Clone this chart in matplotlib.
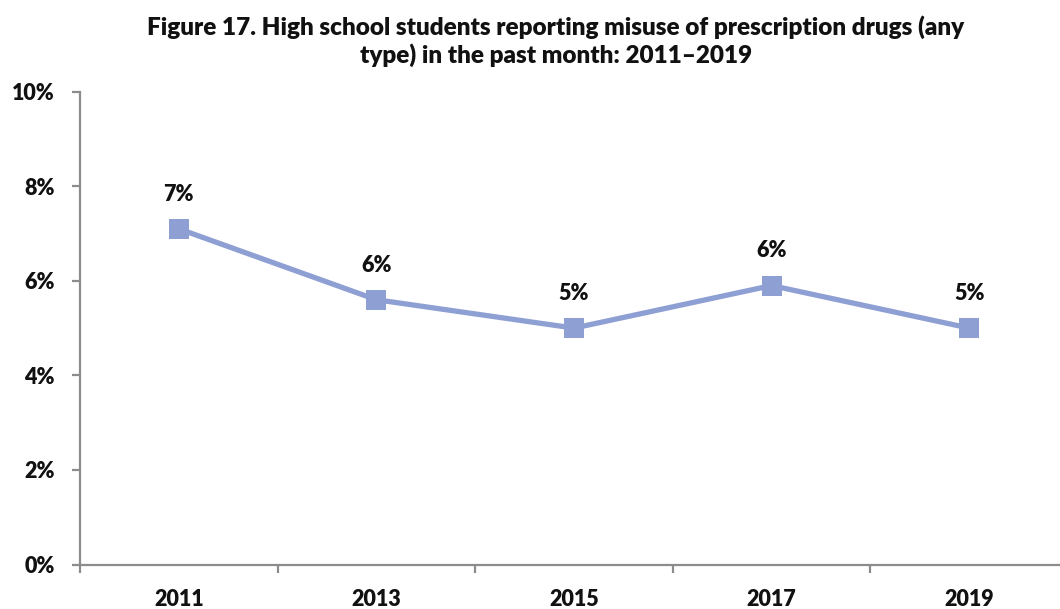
import matplotlib
matplotlib.use("Agg")
import matplotlib.pyplot as plt
from matplotlib.ticker import FuncFormatter, MultipleLocator

# Figure 17 data: misuse of prescription drugs, past month
years = ["2011", "2013", "2015", "2017", "2019"]
pct = [7.1, 5.6, 5.0, 5.9, 5.0]
pct_labels = ["7%", "6%", "5%", "6%", "5%"]
title = ("Figure 17. High school students reporting misuse of prescription drugs (any\n"
         "type) in the past month: 2011\u20132019")

plt.rcParams["font.family"] = ["Lato", "DejaVu Sans"]
plt.rcParams["font.weight"] = "heavy"

W, H = 1060, 609
fig = plt.figure(figsize=(W / 100, H / 100), dpi=100)
ax = fig.add_axes([80 / W, (H - 564.5) / H, 988 / W, (564.5 - 91.7) / H])

line_color = "#8e9fd3"
axis_color = "#8c8c8c"
text_color = "#111111"
x = list(range(len(years)))
ax.plot(x, pct, color=line_color, linewidth=3.8, marker="s", markersize=14.5,
        markeredgewidth=0, solid_capstyle="butt")

for xi, v, lab in zip(x, pct, pct_labels):
  ax.annotate(lab, (xi, v), xytext=(0, 25), textcoords="offset points",
              ha="center", va="center", fontsize=15.5, fontweight="heavy", color=text_color)

ax.set_xlim(-0.5, len(years) - 0.5)
ax.set_ylim(0, 10)
ax.yaxis.set_major_locator(MultipleLocator(2))
ax.yaxis.set_major_formatter(FuncFormatter(lambda v, _: f"{v:.0f}%"))
ax.set_xticks(x)
ax.set_xticklabels(years)
ax.set_xticks([i + 0.5 for i in range(-1, len(years))], minor=True)

for side in ("top", "right"):
  ax.spines[side].set_visible(False)
for side in ("left", "bottom"):
  ax.spines[side].set_color(axis_color)
  ax.spines[side].set_linewidth(1.6)

ax.tick_params(axis="y", length=6, width=1.6, color=axis_color, pad=12,
               labelsize=15.5, labelcolor=text_color)
ax.tick_params(axis="x", which="major", length=0, pad=18, labelsize=15.5, labelcolor=text_color)
ax.tick_params(axis="x", which="minor", length=6, width=1.6, color=axis_color)
for t in ax.get_xticklabels() + ax.get_yticklabels():
  t.set_fontweight("heavy")

fig.text(556 / W, 1 - 41 / H, title, ha="center", va="center", fontsize=17.5,
         fontweight="heavy", color=text_color, linespacing=1.25)

fig.savefig("out.png", dpi=100)
